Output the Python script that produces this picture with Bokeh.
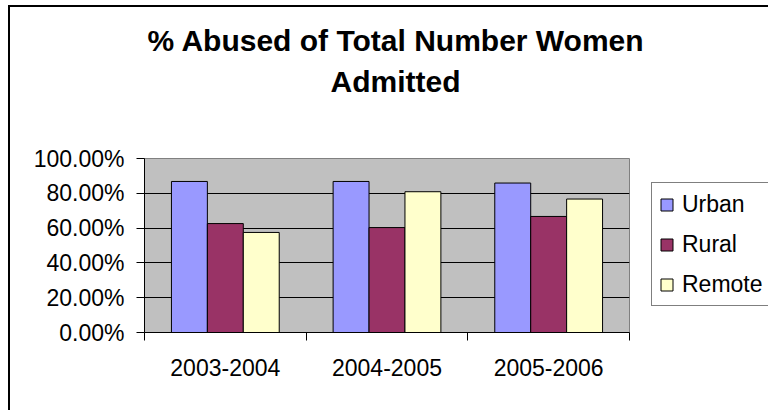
from bokeh.plotting import figure
from bokeh.models import (Range1d, FixedTicker, PrintfTickFormatter, Legend, LegendItem,
                          Title, ColumnDataSource)
from bokeh.transform import dodge
from bokeh.embed import file_html
from bokeh.resources import INLINE

# ---- data ----
years = ["2003-2004", "2004-2005", "2005-2006"]
series = ["Urban", "Rural", "Remote"]
urban = [86.8, 86.8, 85.9]
rural = [62.6, 60.3, 66.7]
remote = [57.5, 80.9, 76.7]
y_ticks = [0, 20, 40, 60, 80, 100]
title_line1 = "% Abused of Total Number Women"
title_line2 = "Admitted"

colors = ["#9999FF", "#993366", "#FFFFCC"]
FONT = "Liberation Sans"

# category slots 0..n on a numeric axis; each category centred in its slot
centers = [i + 0.5 for i in range(len(years))]
boundaries = list(range(len(years) + 1))

source = ColumnDataSource(dict(xc=centers, Urban=urban, Rural=rural, Remote=remote))

p = figure(x_range=Range1d(0, len(years)), y_range=Range1d(0, 100),
           frame_width=485, frame_height=174, output_backend="svg", toolbar_location=None,
           title_location=None,
           min_border_left=134, min_border_right=139, min_border_top=151, min_border_bottom=78)

p.background_fill_color = "#C0C0C0"
p.border_fill_color = "white"
p.outline_line_color = "#808080"
p.outline_line_width = 1
p.styles = {"margin-left": "8px", "margin-top": "5px",
            "border-left": "2px solid black", "border-top": "2px solid black"}

# grid
p.xgrid.grid_line_color = None
p.ygrid.ticker = FixedTicker(ticks=y_ticks[1:-1])
p.ygrid.grid_line_color = "black"
p.ygrid.grid_line_width = 1

# y axis
ya = p.yaxis[0]
ya.ticker = FixedTicker(ticks=y_ticks)
ya.formatter = PrintfTickFormatter(format="%.2f%%")
ya.major_tick_out = 8
ya.major_tick_in = 0
ya.minor_tick_line_color = None
ya.axis_line_color = "black"
ya.major_tick_line_color = "black"
ya.major_label_standoff = 12
ya.major_label_text_font_size = "23px"
ya.major_label_text_font = FONT
ya.major_label_text_color = "black"

# x axis: labels at category centres, tick marks at category boundaries
xa = p.xaxis[0]
xa.ticker = FixedTicker(ticks=centers, minor_ticks=boundaries)
xa.major_label_overrides = {c: y for c, y in zip(centers, years)}
xa.major_tick_line_color = None
xa.major_tick_out = 0
xa.major_tick_in = 0
xa.minor_tick_out = 8
xa.minor_tick_in = 0
xa.minor_tick_line_color = "black"
xa.axis_line_color = "black"
xa.major_label_standoff = 18
xa.major_label_text_font_size = "23px"
xa.major_label_text_font = FONT
xa.major_label_text_color = "black"

# bars
w = 2 / 9
offsets = [-w, 0, w]
renderers = []
for name, off, c in zip(series, offsets, colors):
    r = p.vbar(x=dodge("xc", off), top=name, width=w, source=source,
               fill_color=c, line_color="black", line_width=1)
    renderers.append(r)

legend = Legend(items=[LegendItem(label=s, renderers=[r]) for s, r in zip(series, renderers)],
                location=(22, 26), padding=7, spacing=12, label_height=28,
                glyph_width=15, glyph_height=15, label_standoff=8, label_width=81,
                border_line_color="black", border_line_width=1,
                background_fill_color="white", background_fill_alpha=1.0, margin=0,
                label_text_font_size="23px", label_text_font=FONT, label_text_color="black")
p.add_layout(legend, "right")

# titles (a thin spacer sits between the frame and the two title lines)
spacer = Title(text=" ", text_font_size="1px", standoff=58)
t2 = Title(text=title_line2, align="left", offset=186, standoff=0,
           text_font_size="30px", text_font_style="bold", text_font=FONT, text_color="black")
t1 = Title(text=title_line1, align="left", offset=3, standoff=11,
           text_font_size="30px", text_font_style="bold", text_font=FONT, text_color="black")
p.add_layout(spacer, "above")
p.add_layout(t2, "above")
p.add_layout(t1, "above")

open("out.html", "w").write(file_html(p, INLINE))
